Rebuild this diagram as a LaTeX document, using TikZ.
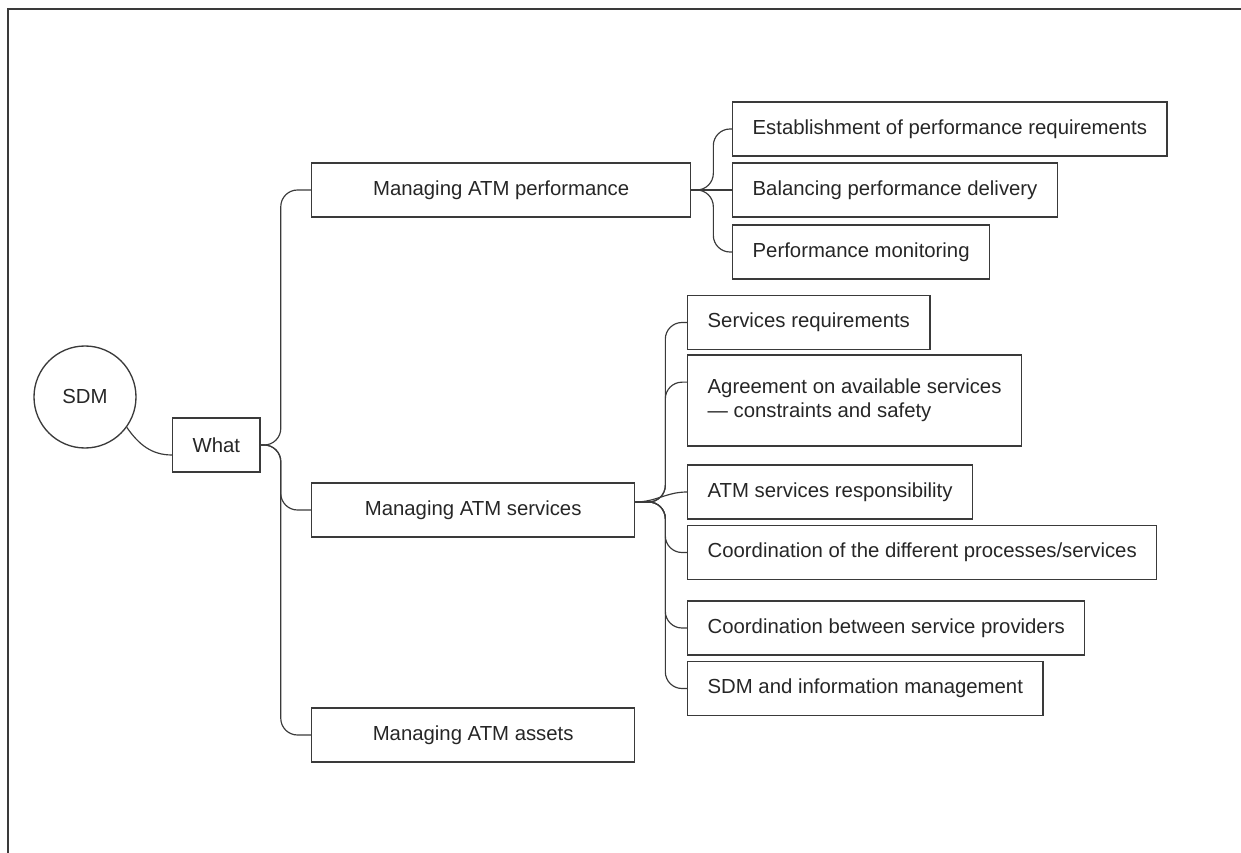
\documentclass[tikz,border=0pt]{standalone}
\usepackage{fontspec}
\setmainfont{Liberation Sans}
\usetikzlibrary{positioning}
\definecolor{linegray}{HTML}{3A3A3A}
\definecolor{textgray}{HTML}{262626}

\tikzset{
    box/.style={draw=linegray,line width=0.8pt,text=textgray,minimum height=32.4pt,inner xsep=12pt,anchor=west,font=\fontsize{12.2}{14.4}\selectfont},
    topic/.style={box,minimum width=#1},
    link/.style={draw=linegray,line width=0.7pt,rounded corners=10pt},
    branch/.style={to path={-- ++(#1,0) |- (\tikztotarget) \tikztonodes}}
}

\begin{document}
\begin{tikzpicture}[x=0.6pt,y=-0.6pt]
    \useasboundingbox (0,0) rectangle (1241,853);
    \draw[draw=linegray,line width=0.8pt] (8,853) -- (8,9) -- (1241,9);

    \node[box,circle,anchor=center,minimum size=61.2pt,inner sep=0pt] (sdm) at (85,397) {SDM};
    \node[box] (what) at (172,445) {What};
    \node[topic=227.4pt] (m_1) at (311,190) {Managing ATM performance};
    \node[topic=193.8pt] (m_2) at (311,510) {Managing ATM services};
    \node[topic=193.8pt] (m_3) at (311,735) {Managing ATM assets};

    \node[box] (p_1) at (732,129) {Establishment of performance requirements};
    \node[box] (p_2) at (732,190) {Balancing performance delivery};
    \node[box] (p_3) at (732,252) {Performance monitoring};

    \node[box] (s_1) at (687,322.5) {Services requirements};
    \node[box,align=left,minimum height=54.6pt] (s_2) at (687,400.5) {Agreement on available services\\— constraints and safety};
    \node[box] (s_3) at (687,492) {ATM services responsibility};
    \node[box] (s_4) at (687,552.5) {Coordination of the different processes/services};
    \node[box] (s_5) at (687,628) {Coordination between service providers};
    \node[box] (s_6) at (687,688.5) {SDM and information management};

    \coordinate (fork) at ([yshift=4.8pt]m_2.east);

    \path[link]
    (sdm.-36) edge [out=-55,in=180] ([yshift=-6pt]what.west)
    (what.east) edge [branch=20] (m_1.west)
        edge [branch=20] (m_2.west)
        edge [branch=20] (m_3.west)
    (m_1.east) edge [branch=22] (p_1.west)
        edge (p_2.west)
        edge [branch=22] (p_3.west)
    (fork) edge [branch=30] (s_1.west)
        edge [branch=30] ([yshift=11pt]s_2.west)
        edge [out=0,in=180] (s_3.west)
        edge [branch=30] (s_4.west)
        edge [branch=30] (s_5.west)
        edge [branch=30] (s_6.west)
        ;

\end{tikzpicture}
\end{document}
